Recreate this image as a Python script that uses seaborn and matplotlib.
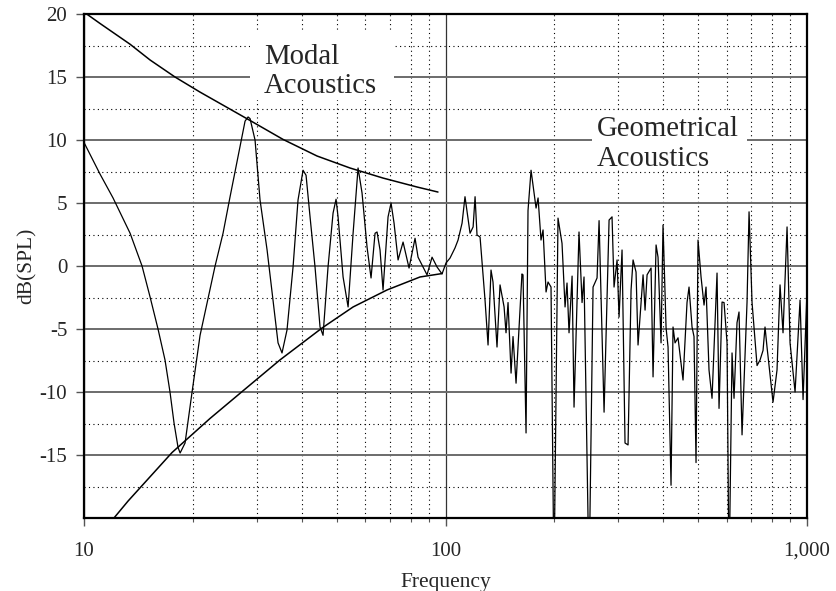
import matplotlib
matplotlib.use("Agg")
import matplotlib.pyplot as plt
import matplotlib.ticker as mticker
from matplotlib.patches import Rectangle
import numpy as np
import pandas as pd
import seaborn as sns

# Room response (dB SPL) against frequency (Hz)
resp_freq = [10.0, 11.07, 12.03, 13.41, 14.47, 15.23, 16.02, 16.75, 17.29, 17.74,
             18.20, 18.44, 19.03, 19.90, 20.94, 23.04, 24.24, 25.35, 27.89, 28.43,
             28.79, 29.72, 30.68, 32.09, 33.33, 34.41, 35.29, 36.43, 37.86, 39.08,
             40.35, 41.13, 42.19, 43.55, 44.96, 45.83, 47.31, 48.85, 49.79, 50.43,
             52.07, 53.76, 55.50, 57.28, 58.75, 60.66, 62.22, 63.83, 64.65, 65.89,
             67.16, 69.34, 70.68, 72.04, 73.91, 76.30, 79.26, 82.35, 83.94, 86.10,
             88.87, 91.77, 94.74, 97.79, 100.3, 102.9, 106.2, 108.3, 111.1, 113.2,
             116.9, 119.2, 120.7, 122.2, 124.6, 128.6, 131.1, 133.6, 135.3, 138.8,
             141.5, 145.2, 147.0, 148.9, 151.8, 153.7, 156.7, 162.7, 163.8, 167.0,
             169.1, 172.4, 178.0, 180.3, 183.7, 186.1, 189.7, 192.1, 195.8, 199.5,
             204.7, 210.0, 214.1, 216.8, 219.6, 223.9, 226.7, 234.0, 238.6, 241.6,
             249.5, 255.9, 262.5, 265.9, 274.5, 283.4, 288.8, 292.5, 298.2, 302.0,
             307.8, 313.7, 319.8, 326.0, 330.2, 336.5, 340.8, 351.9, 356.4, 361.0,
             370.3, 375.0, 382.3, 387.1, 394.6, 399.6, 407.4, 412.6, 420.5, 425.9,
             431.4, 439.7, 453.9, 465.6, 471.6, 480.7, 486.8, 493.1, 499.4, 509.1,
             518.9, 525.5, 535.6, 546.0, 563.7, 570.9, 582.0, 589.4, 600.8, 608.4,
             620.2, 628.1, 640.2, 648.4, 661.0, 682.4, 691.2, 704.5, 727.3, 741.3,
             755.6, 765.2, 775.0, 805.2, 826.0, 842.0, 858.2, 880.5, 897.5, 926.6,
             956.5, 975.0, 1000.0]
resp_db = [9.8, 7.3, 5.4, 2.6, 0.0, -2.46, -5.0, -7.46, -10.0, -12.46,
           -14.4, -14.84, -14.05, -10.0, -5.5, 0.0, 2.6, 5.5, 11.5, 11.83,
           11.7, 10.0, 5.24, 1.27, -2.7, -6.1, -6.9, -5.08, -0.08, 5.24,
           7.6, 7.2, 3.9, -0.08, -4.84, -5.5, -0.08, 4.2, 5.3, 3.9,
           -0.87, -3.25, 2.6, 7.78, 5.8, 1.5, -0.95, 2.6, 2.7, 1.27,
           -1.9, 3.9, 5.0, 3.4, 0.48, 1.9, -0.16, 2.2, 0.7, 0.08,
           -0.7, 0.7, -0.08, -0.63, 0.24, 0.63, 1.43, 2.06, 3.4, 5.5,
           2.6, 3.1, 5.5, 2.46, 2.3, -2.7, -6.27, -0.32, -1.27, -6.43,
           -1.5, -3.25, -5.3, -2.9, -8.5, -5.6, -9.3, -0.63, -0.7, -13.25,
           4.4, 7.6, 4.6, 5.4, 2.06, 2.86, -2.06, -1.27, -1.67, -25.0,
           3.8, 1.8, -3.25, -1.35, -5.3, -0.8, -11.2, 2.7, -2.9, -0.87,
           -25.0, -1.67, -0.95, 3.6, -11.6, 3.65, 3.9, -1.67, 0.48, -4.05,
           1.27, -14.05, -14.2, -1.9, 0.48, -0.48, -6.27, -0.7, -3.5, -0.7,
           -0.16, -8.8, 1.67, 0.7, -6.1, 3.25, -4.9, -6.43, -17.4, -4.84,
           -6.1, -5.7, -9.05, -2.9, -1.67, -4.84, -5.6, -15.6, 2.06, -0.87,
           -3.1, -1.67, -8.25, -10.5, -0.56, -11.3, -2.86, -2.9, -6.1, -25.0,
           -6.9, -10.5, -4.5, -3.65, -13.4, -2.86, 4.3, -2.9, -7.9, -7.46,
           -6.7, -4.84, -6.43, -10.8, -8.25, -1.5, -5.3, 3.1, -6.1, -10.0,
           -2.7, -10.6, -1.9]

# Upper and lower envelopes of the modal region
upper_freq = [10.0, 11.07, 13.41, 15.23, 17.85, 20.94, 25.35, 28.79, 35.51,
              44.11, 54.4, 67.16, 83.4, 95.3]
upper_db = [20.15, 19.25, 17.6, 16.35, 15.0, 13.8, 12.45, 11.55, 10.05,
            8.73, 7.78, 6.98, 6.27, 5.87]
lower_freq = [12.1, 13.24, 17.52, 22.31, 27.54, 34.85, 45.54, 55.5, 68.9,
              85.0, 97.79]
lower_db = [-20.0, -18.65, -14.8, -12.1, -9.9, -7.45, -4.92, -3.25, -1.9,
            -0.87, -0.6]

x_ticks = [10, 100, 1000]
x_tick_labels = ["10", "100", "1,000"]
y_ticks = [-15, -10, -5, 0, 5, 10, 15, 20]

sns.set_theme(style="white")
plt.rcParams["font.family"] = ["Liberation Serif", "DejaVu Serif"]
plt.rcParams["axes.unicode_minus"] = False

fig = plt.figure(figsize=(8.37, 5.91), dpi=100)
ax = fig.add_axes([0.1004, 0.1235, 0.8638, 0.8528])

resp = pd.DataFrame({"freq": resp_freq, "db": resp_db})
upper = pd.DataFrame({"freq": upper_freq, "db": upper_db})
lower = pd.DataFrame({"freq": lower_freq, "db": lower_db})

sns.lineplot(data=resp, x="freq", y="db", ax=ax, sort=False, estimator=None,
             color="black", lw=0.9, zorder=3)
sns.lineplot(data=upper, x="freq", y="db", ax=ax, sort=False, estimator=None,
             color="black", lw=1.1, zorder=3)
sns.lineplot(data=lower, x="freq", y="db", ax=ax, sort=False, estimator=None,
             color="black", lw=1.1, zorder=3)

ax.set_xscale("log")
ax.set_xlim(10, 1000)
ax.set_ylim(-20, 20)

ax.xaxis.set_major_locator(mticker.FixedLocator(x_ticks))
ax.xaxis.set_major_formatter(mticker.FixedFormatter(x_tick_labels))
ax.xaxis.set_minor_locator(mticker.LogLocator(base=10, subs=np.arange(2, 10)))
ax.xaxis.set_minor_formatter(mticker.NullFormatter())
ax.yaxis.set_major_locator(mticker.FixedLocator(y_ticks))
ax.yaxis.set_minor_locator(mticker.MultipleLocator(2.5))

ax.set_axisbelow(True)
ax.yaxis.grid(True, which="major", color="#6b6b6b", ls="-", lw=1.4)
ax.yaxis.grid(True, which="minor", color="black", ls=(0, (1, 3)), lw=0.8)
ax.xaxis.grid(True, which="major", color="#333333", ls="-", lw=0.9)
ax.xaxis.grid(True, which="minor", color="black", ls=(0, (1, 3)), lw=0.8)

for s in ax.spines.values():
    s.set_color("black")
    s.set_linewidth(1.6)

ax.tick_params(axis="x", which="major", direction="out", length=6, width=1.0,
               color="#555555", bottom=True, labelsize=15, pad=11)
ax.tick_params(axis="x", which="minor", direction="out", length=3, width=0.8,
               color="#555555", bottom=True)
ax.tick_params(axis="y", which="major", direction="out", length=6, width=1.0,
               color="#555555", left=True, labelsize=15, pad=6)
ax.tick_params(axis="y", which="minor", left=False)

ax.set_xlabel("Frequency", fontsize=15.5, labelpad=9)
ax.set_ylabel("dB(SPL)", fontsize=15.5, labelpad=2)

# White panels behind the two region captions
ax.add_patch(Rectangle((0.2296, 0.829), 0.1992, 0.139, transform=ax.transAxes,
                       facecolor="white", edgecolor="none", zorder=1.5))
ax.add_patch(Rectangle((0.7026, 0.694), 0.2144, 0.1135, transform=ax.transAxes,
                       facecolor="white", edgecolor="none", zorder=1.5))

ax.text(31.5, 13.73, "Modal\nAcoustics", fontsize=20.7, ha="left", va="baseline",
        linespacing=1.17, zorder=4)
ax.text(262.4, 7.95, "Geometrical\nAcoustics", fontsize=20.7, ha="left",
        va="baseline", linespacing=1.17, zorder=4)

fig.savefig("out.png", dpi=100)
